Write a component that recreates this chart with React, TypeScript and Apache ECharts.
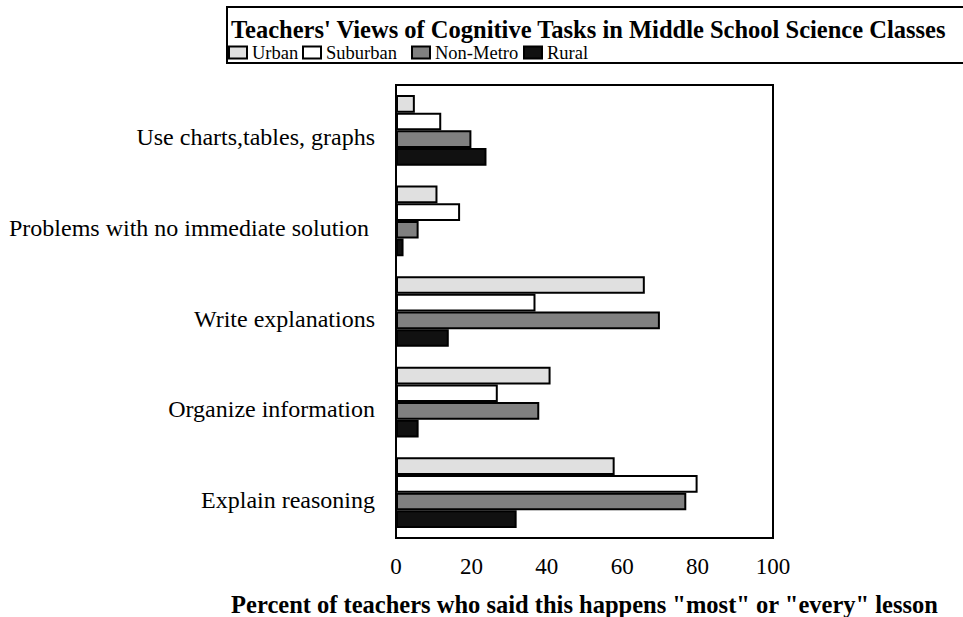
import React, { useEffect, useRef } from "react";
import * as echarts from "echarts";

const categories = [
  "Use charts,tables, graphs",
  "Problems with no immediate solution ",
  "Write explanations",
  "Organize information",
  "Explain reasoning",
];
const seriesNames = ["Urban", "Suburban", "Non-Metro", "Rural"];
const urban = [5, 11, 66, 41, 58];
const suburban = [12, 17, 37, 27, 80];
const nonMetro = [20, 6, 70, 38, 77];
const rural = [24, 2, 14, 6, 32];
const xTicks = [0, 20, 40, 60, 80, 100];

const FONT = "'Liberation Serif', 'Times New Roman', serif";
const colors = ["#e0e0e0", "#ffffff", "#808080", "#111111"];
const legendLefts = [228, 302, 411, 523];

export default function App() {
  const ref = useRef<HTMLDivElement>(null);
  useEffect(() => {
    const chart = echarts.init(ref.current!, undefined, { renderer: "svg" });
    const values = [urban, suburban, nonMetro, rural];
    chart.setOption({
      animation: false,
      backgroundColor: "#fff",
      title: {
        text: "Teachers' Views of Cognitive Tasks in Middle School Science Classes",
        left: 231,
        top: 18,
        padding: 0,
        textStyle: {
          fontFamily: FONT,
          fontSize: 24.5,
          fontWeight: "bold",
          color: "#000",
          lineHeight: 22,
        },
      },
      legend: seriesNames.map((n, i) => ({
        data: [n],
        left: legendLefts[i],
        top: 43,
        padding: 0,
        itemWidth: 18,
        itemHeight: 12,
        icon: "rect",
        textStyle: { fontFamily: FONT, fontSize: 18.5, color: "#000", lineHeight: 14 },
        itemStyle: { borderColor: "#000", borderWidth: 2 },
        selectedMode: false,
      })),
      graphic: [
        {
          type: "rect",
          shape: { x: 227, y: 7, width: 760, height: 56 },
          style: { fill: "none", stroke: "#000", lineWidth: 2 },
          silent: true,
        },
      ],
      grid: {
        left: 396,
        top: 85,
        width: 377,
        height: 453,
        show: true,
        borderColor: "#000",
        borderWidth: 2,
        backgroundColor: "transparent",
        containLabel: false,
        outerBoundsMode: "none",
      },
      xAxis: {
        type: "value",
        min: xTicks[0],
        max: xTicks[xTicks.length - 1],
        interval: 20,
        axisLine: { show: false },
        axisTick: { show: false },
        splitLine: { show: false },
        axisLabel: {
          margin: 17,
          fontFamily: FONT,
          fontSize: 23,
          color: "#000",
        },
        name: 'Percent of teachers who said this happens "most" or "every" lesson',
        nameLocation: "middle",
        nameGap: 55,
        nameTextStyle: {
          fontFamily: FONT,
          fontSize: 24.5,
          fontWeight: "bold",
          color: "#000",
          lineHeight: 22,
        },
      },
      yAxis: {
        type: "category",
        data: categories,
        inverse: true,
        axisLine: { show: false },
        axisTick: { show: false },
        splitLine: { show: false },
        axisLabel: {
          margin: 21,
          fontFamily: FONT,
          fontSize: 24,
          color: "#000",
          verticalAlign: "top",
          lineHeight: 14,
        },
      },
      series: seriesNames.map((n, i) => ({
        name: n,
        type: "bar",
        data: values[i],
        barGap: "0%",
        barCategoryGap: "22%",
        itemStyle: { color: colors[i], borderColor: "#000", borderWidth: 2 },
      })),
    });
    return () => chart.dispose();
  }, []);
  return (
    <div
      ref={ref}
      style={{ position: "fixed", left: 0, top: 0, width: 963, height: 617 }}
    />
  );
}
